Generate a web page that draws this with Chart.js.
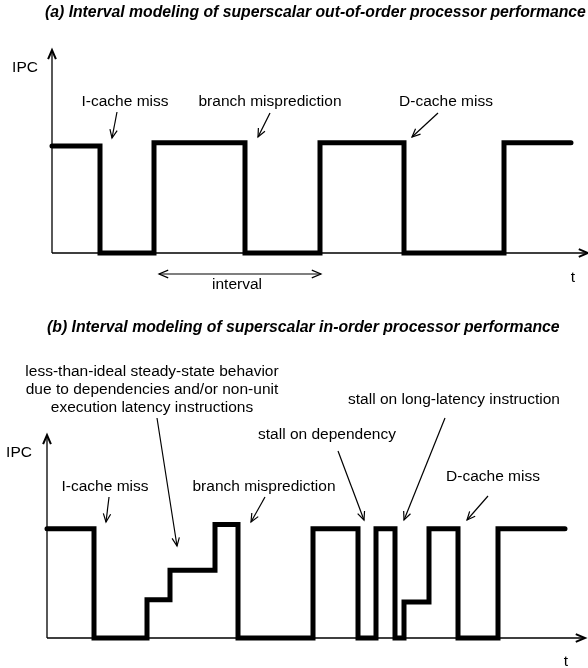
<!DOCTYPE html>
<html>
<head>
<meta charset="utf-8">
<script src="https://cdn.jsdelivr.net/npm/chart.js@4.4.1/dist/chart.umd.min.js"></script>
<style>
  html, body { margin: 0; padding: 0; background: #fff; }
  .panel { width: 588px; position: relative; }
  canvas { display: block; }
</style>
</head>
<body>
<div class="panel" style="height:300px"><canvas id="chartA" width="588" height="300"></canvas></div>
<div class="panel" style="height:368px"><canvas id="chartB" width="588" height="368"></canvas></div>
<script>
'use strict';

/* ---- data: time where a new IPC level starts, and that level ---- */
// (a) out-of-order core
const timeA = [0, 48, 102, 193, 268, 352, 452, 519];
const ipcA  = [0.99, 0, 1.02, 0, 1.02, 0, 1.02, 1.02];

// (b) in-order core
const timeB = [0, 47, 100, 123, 168, 191, 266, 311, 329, 348, 357, 382, 411, 451, 518];
const ipcB  = [1, 0, 0.35, 0.62, 1.04, 0, 1, 0, 1, 0, 0.33, 1, 0, 1, 1];

const FONT = "'Liberation Sans', Arial, Helvetica, sans-serif";

/* annotations in canvas pixels (per panel) */
const notesA = {
    title: { text: '(a) Interval modeling of superscalar out-of-order processor performance', x: 45, y: 13, w: 541 },
    labels: [
        ['IPC', 25, 68],
        ['I-cache miss', 125, 102],
        ['branch misprediction', 270, 102],
        ['D-cache miss', 446, 102],
        ['interval', 237, 285],
        ['t', 573, 278]
    ],
    arrows: [
        [117, 112, 112, 138],
        [270, 113, 258, 137],
        [438, 113, 412, 137]
    ],
    span: [159, 321, 274]
};

const notesB = {
    title: { text: '(b) Interval modeling of superscalar in-order processor performance', x: 47, y: 28, w: 513 },
    labels: [
        ['less-than-ideal steady-state behavior', 152, 72],
        ['due to dependencies and/or non-unit', 152, 90],
        ['execution latency instructions', 152, 108],
        ['stall on long-latency instruction', 454, 100],
        ['stall on dependency', 327, 135],
        ['IPC', 19, 153],
        ['I-cache miss', 105, 187],
        ['branch misprediction', 264, 187],
        ['D-cache miss', 493, 177],
        ['t', 566, 362]
    ],
    arrows: [
        [157, 118, 177, 246],
        [109, 197, 106, 222],
        [265, 197, 251, 222],
        [338, 151, 364, 220],
        [445, 118, 404, 220],
        [488, 196, 467, 220]
    ],
    span: null
};

function head(ctx, x1, y1, x2, y2, len, ang) {
    const a = Math.atan2(y2 - y1, x2 - x1);
    ctx.beginPath();
    ctx.moveTo(x2 - len * Math.cos(a - ang), y2 - len * Math.sin(a - ang));
    ctx.lineTo(x2, y2);
    ctx.lineTo(x2 - len * Math.cos(a + ang), y2 - len * Math.sin(a + ang));
    ctx.stroke();
}

function arrow(ctx, x1, y1, x2, y2) {
    ctx.lineWidth = 1.2;
    ctx.beginPath(); ctx.moveTo(x1, y1); ctx.lineTo(x2, y2); ctx.stroke();
    head(ctx, x1, y1, x2, y2, 9, 0.42);
}

// axes (drawn under the IPC trace)
const axesPlugin = {
    id: 'axes',
    beforeDatasetsDraw(chart) {
        const ctx = chart.ctx;
        const xs = chart.scales.x, ys = chart.scales.y;
        const x0 = xs.getPixelForValue(0), y0 = ys.getPixelForValue(0);
        const top = ys.getPixelForValue(ys.max), right = xs.getPixelForValue(xs.max);
        ctx.save();
        ctx.strokeStyle = '#000'; ctx.lineWidth = 1.3; ctx.lineCap = 'butt';
        ctx.beginPath();
        ctx.moveTo(x0, y0); ctx.lineTo(x0, top);
        ctx.moveTo(x0, y0); ctx.lineTo(right, y0);
        ctx.stroke();
        ctx.lineWidth = 2;
        head(ctx, x0, y0, x0, top, 10, 0.4);
        head(ctx, x0, y0, right, y0, 10, 0.4);
        ctx.restore();
    }
};

// titles, labels and call-out arrows
const notesPlugin = {
    id: 'notes',
    afterDraw(chart, args, opts) {
        const n = opts.notes;
        const ctx = chart.ctx;
        ctx.save();
        ctx.fillStyle = '#000'; ctx.strokeStyle = '#000';
        // title, fitted to its width in the figure
        ctx.font = 'italic bold 100px ' + FONT;
        const size = 100 * n.title.w / ctx.measureText(n.title.text).width;
        ctx.font = 'italic bold ' + size.toFixed(2) + 'px ' + FONT;
        ctx.textAlign = 'left'; ctx.textBaseline = 'middle';
        ctx.fillText(n.title.text, n.title.x, n.title.y);

        ctx.font = '15.5px ' + FONT;
        ctx.textAlign = 'center';
        n.labels.forEach(([t, x, y]) => ctx.fillText(t, x, y));

        n.arrows.forEach(a => arrow(ctx, a[0], a[1], a[2], a[3]));
        if (n.span) {
            const [xa, xb, y] = n.span;
            ctx.lineWidth = 1.2;
            ctx.beginPath(); ctx.moveTo(xa, y); ctx.lineTo(xb, y); ctx.stroke();
            head(ctx, xa, y, xb, y, 10, 0.4);
            head(ctx, xb, y, xa, y, 10, 0.4);
        }
        ctx.restore();
    }
};

function makeChart(id, times, ipc, xmax, ymax, pad, notes) {
    return new Chart(document.getElementById(id), {
        type: 'line',
        data: {
            datasets: [{
                data: times.map((t, i) => ({ x: t, y: ipc[i] })),
                stepped: 'before',
                borderColor: '#000',
                borderWidth: 5,
                borderJoinStyle: 'miter',
                borderCapStyle: 'round',
                pointRadius: 0,
                fill: false,
                clip: false
            }]
        },
        options: {
            responsive: false,
            devicePixelRatio: 1,
            animation: false,
            layout: { padding: pad },
            scales: {
                x: { type: 'linear', display: false, min: 0, max: xmax },
                y: { type: 'linear', display: false, min: 0, max: ymax }
            },
            plugins: {
                legend: { display: false },
                tooltip: { enabled: false },
                notes: { notes }
            }
        },
        plugins: [axesPlugin, notesPlugin]
    });
}

makeChart('chartA', timeA, ipcA, 536, 1.88, { left: 52, right: 0, top: 50, bottom: 47 }, notesA);
makeChart('chartB', timeB, ipcB, 538, 1.86, { left: 47, right: 3, top: 135, bottom: 30 }, notesB);
</script>
</body>
</html>
